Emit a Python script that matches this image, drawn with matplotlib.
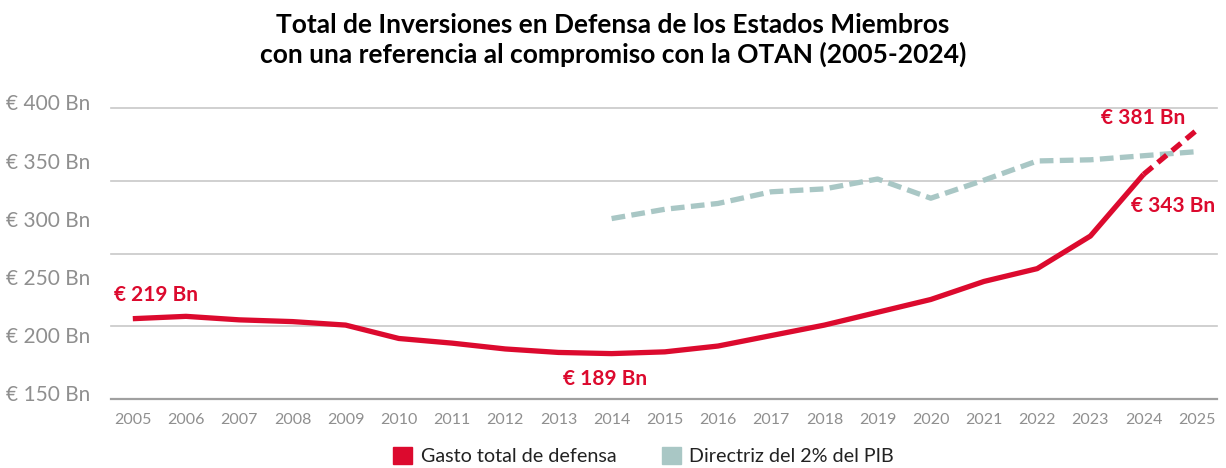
import matplotlib
matplotlib.use('Agg')
import matplotlib.pyplot as plt
import matplotlib.transforms as mtransforms
from matplotlib.patches import Patch

plt.rcParams['font.family'] = ['Lato', 'DejaVu Sans']

# datos (miles de millones de euros)
anios = list(range(2005, 2026))
gasto = [219, 221, 218, 216.5, 213.5, 202, 198, 193, 190, 189, 190.5, 195.5,
         204.5, 213.5, 224.5, 235.5, 251, 262, 290, 343, 381]
anios_otan = list(range(2014, 2026))
directriz = [305, 313, 318, 328, 330.5, 339, 322.5, 338, 354.5, 355.5, 359, 362.5]
yticks = [150, 200, 250, 300, 350, 400]
ylabels = ['€ 150 Bn', '€ 200 Bn', '€ 250 Bn', '€ 300 Bn', '€ 350 Bn', '€ 400 Bn']

rojo = '#DC0A2E'
verde = '#A9C7C5'
gris = '#8F8F8F'

fig = plt.figure(figsize=(12.26, 4.68), dpi=100)
ax = fig.add_axes([111/1226, 69/468, 1106/1226, 291/468])

# linea roja: solida hasta 2024, discontinua 2024-2025
ax.plot(anios[:-1], gasto[:-1], color=rojo, lw=3.8, solid_capstyle='butt', zorder=4)
ax.plot(anios[-2:], gasto[-2:], color=rojo, lw=3.8, dashes=(2.2, 1.3), zorder=4)
ax.plot(anios_otan, directriz, color=verde, lw=3.8, dashes=(2.6, 1.2), zorder=3)

ax.set_xlim(2004.59, 2025.38)
ax.set_ylim(150, 400)
ax.set_xticks(anios)
ax.set_xticklabels([str(a) for a in anios], fontsize=11.5, color=gris)
ax.set_yticks(yticks)
ax.set_yticklabels(ylabels, fontsize=15, color=gris)
ax.tick_params(axis='both', length=0)
ax.tick_params(axis='x', pad=10)
ax.tick_params(axis='y', pad=15)
desplaza = mtransforms.ScaledTranslation(0, 4/72, fig.dpi_scale_trans)
for lab in ax.get_yticklabels():
    lab.set_transform(lab.get_transform() + desplaza)

# lineas de cuadricula
for v in [212.5, 275, 337.5, 400]:
    ax.axhline(v, color='#C8C8C8', lw=1.2, clip_on=False, zorder=1)
for s in ['top', 'right', 'left']:
    ax.spines[s].set_visible(False)
ax.spines['bottom'].set_color('#A0A0A0')
ax.spines['bottom'].set_linewidth(1.6)

# etiquetas de valores
ax.text(2005.43, 239, '€ 219 Bn', color=rojo, fontsize=15, fontweight='bold', ha='center', va='center')
ax.text(2013.87, 167, '€ 189 Bn', color=rojo, fontsize=15, fontweight='bold', ha='center', va='center')
ax.text(2024.0, 391, '€ 381 Bn', color=rojo, fontsize=15, fontweight='bold', ha='center', va='center')
ax.text(2024.55, 316, '€ 343 Bn', color=rojo, fontsize=15, fontweight='bold', ha='center', va='center')

fig.text(0.5, 0.972, 'Total de Inversiones en Defensa de los Estados Miembros\ncon una referencia al compromiso con la OTAN (2005-2024)',
         ha='center', va='top', fontsize=19, fontweight='bold', linespacing=1.2)

handles = [Patch(color=rojo, label='Gasto total de defensa'),
           Patch(color=verde, label='Directriz del 2% del PIB')]
fig.legend(handles=handles, loc='center', bbox_to_anchor=(0.525, 0.025), ncol=2, frameon=False,
           fontsize=14.2, handlelength=0.95, handleheight=0.95, handletextpad=0.45, columnspacing=2.3,
           labelcolor='#222222', borderpad=0)

fig.savefig('out.png', dpi=100)
